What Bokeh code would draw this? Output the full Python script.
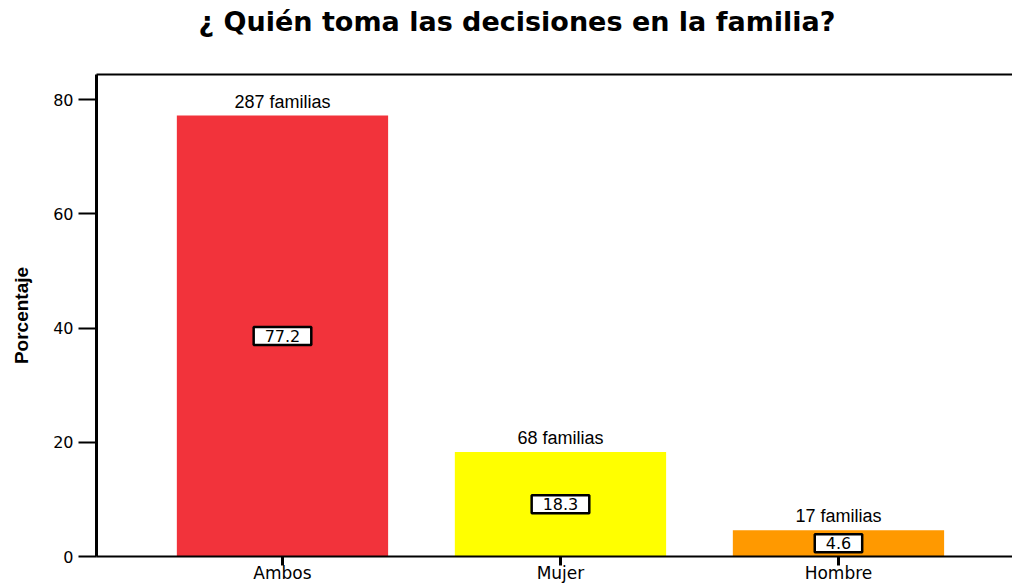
from bokeh.plotting import figure
from bokeh.models import ColumnDataSource, LinearAxis, FixedTicker, Range1d, Label, Div
from bokeh.layouts import column
from bokeh.embed import file_html
from bokeh.resources import INLINE

categories = ["Ambos", "Mujer", "Hombre"]
percentages = [77.2, 18.3, 4.6]
counts = [287, 68, 17]
count_labels = [f"{c} familias" for c in counts]
colors = ["#F2333B", "#FFFF00", "#FF9900"]
y_ticks = [0, 20, 40, 60, 80]
title_text = "¿ Quién toma las decisiones en la familia?"
y_label = "Porcentaje"

xs = list(range(len(categories)))
src = ColumnDataSource(dict(x=xs, pct=percentages, color=colors))

WIDE = "'DejaVu Sans', sans-serif"
ARIAL = "'Liberation Sans', Arial, sans-serif"

TITLE_H = 60
title_div = Div(
    text=(f'<div style="width:990px; margin-left:22px; text-align:center; '
          f'font-family:\'DejaVu Sans\', sans-serif; font-weight:bold; font-size:27px; '
          f'line-height:32px; padding-top:6px; color:black; white-space:nowrap;">'
          f'{title_text}</div>'),
    width=1012, height=TITLE_H, margin=0)

p = figure(width=1012, height=586 - TITLE_H, output_backend="svg", toolbar_location=None,
           title=None,
           x_range=Range1d(-0.669, 2.626), y_range=Range1d(0, 84.4),
           min_border_left=96, min_border_right=0, min_border_top=74 - TITLE_H,
           min_border_bottom=30, margin=0)

p.vbar(x="x", top="pct", width=0.76, color="color", line_color=None, source=src)

p.grid.visible = False
p.outline_line_color = None
p.background_fill_color = "white"
p.border_fill_color = "white"

# y axis
ya = p.yaxis[0]
ya.ticker = FixedTicker(ticks=y_ticks)
ya.axis_line_width = 3
ya.axis_line_color = "black"
ya.major_tick_out = 18
ya.major_tick_in = 0
ya.major_tick_line_width = 2
ya.minor_tick_line_color = None
ya.major_label_text_font = WIDE
ya.major_label_text_font_size = "16px"
ya.major_label_text_color = "black"
ya.major_label_standoff = 5
ya.axis_label = y_label
ya.axis_label_text_font = ARIAL
ya.axis_label_text_font_size = "19px"
ya.axis_label_text_font_style = "bold"
ya.axis_label_text_color = "black"
ya.axis_label_standoff = 18

# x axis
xa = p.xaxis[0]
xa.ticker = FixedTicker(ticks=xs)
xa.axis_line_width = 2
xa.axis_line_color = "black"
xa.major_tick_out = 9
xa.major_tick_in = 0
xa.major_tick_line_width = 3
xa.minor_tick_line_color = None
xa.major_label_overrides = {x: c for x, c in zip(xs, categories)}
xa.major_label_text_font = WIDE
xa.major_label_text_font_size = "17px"
xa.major_label_text_color = "black"
xa.major_label_standoff = -3

# top frame line
top = LinearAxis(ticker=FixedTicker(ticks=[]), major_tick_line_color=None,
                 minor_tick_line_color=None, axis_line_width=2, axis_line_color="black",
                 major_label_standoff=0)
p.add_layout(top, "above")

for x, pct, cl in zip(xs, percentages, count_labels):
    p.add_layout(Label(x=x, y=pct, y_offset=4, text=cl, text_align="center",
                       text_baseline="bottom", text_font=ARIAL, text_font_size="18px",
                       text_color="black"))
    p.add_layout(Label(x=x, y=pct / 2, text=f"{pct}", text_align="center",
                       text_baseline="middle", text_font=WIDE, text_font_size="16px",
                       text_color="black",
                       background_fill_color="white", border_line_color="black",
                       border_line_width=2.5,
                       padding=dict(left=11, right=11, top=3, bottom=3)))

layout = column(title_div, p, spacing=0)
open("out.html", "w").write(file_html(layout, INLINE))
